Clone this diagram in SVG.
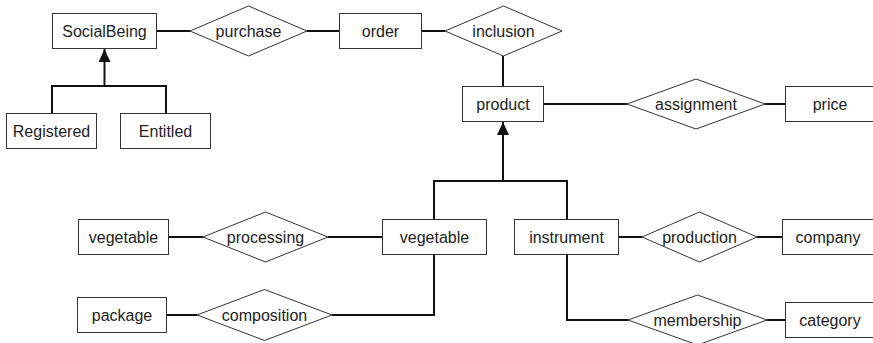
<svg xmlns="http://www.w3.org/2000/svg" width="873" height="343" viewBox="0 0 873 343">
<style>
.ent rect{fill:#fff;stroke:#333;stroke-width:1}
.rel polygon{fill:#fff;stroke:#333;stroke-width:1}
text{font-family:"Liberation Sans",Arial,sans-serif;font-size:16px;fill:#222;text-anchor:middle}
.conn path{fill:none;stroke:#111;stroke-width:2}
</style>
<defs>
<marker id="tri" markerUnits="userSpaceOnUse" viewBox="0 0 13 12" markerWidth="13" markerHeight="12" refX="13" refY="6" orient="auto">
<path d="M0,0 L13,6 L0,12 z" fill="#111"/>
</marker>
</defs>
<rect width="873" height="343" fill="#fff"/>
<g id="connectors" class="conn">
<path d="M157,31 H190"/>
<path d="M307,31 H339"/>
<path d="M422,31 H445"/>
<path d="M503,56 V86"/>
<path d="M544,104 H627"/>
<path d="M765,104 H785"/>
<path d="M169,237 H203"/>
<path d="M328,237 H382"/>
<path d="M167,315 H197"/>
<path d="M332,315 H434 V255"/>
<path d="M619,237 H642"/>
<path d="M757,237 H782"/>
<path d="M567,255 V320 H628"/>
<path d="M767,320 H785"/>
<path d="M52,113 V86 H166 V113"/>
<path d="M104.5,86 V49" marker-end="url(#tri)"/>
<path d="M434,219 V181 H567 V219"/>
<path d="M503,181 V122" marker-end="url(#tri)"/>
</g>
<g id="SocialBeing" class="ent"><rect x="52.5" y="13.5" width="104" height="35"/><text x="104.5" y="36.5">SocialBeing</text></g>
<g id="purchase" class="rel"><polygon points="190,31 248.5,6 307,31 248.5,56"/><text x="248.5" y="36.5">purchase</text></g>
<g id="order" class="ent"><rect x="339.5" y="13.5" width="82" height="35"/><text x="380.5" y="36.5">order</text></g>
<g id="inclusion" class="rel"><polygon points="445,31 503.5,6 562,31 503.5,56"/><text x="503.5" y="36.5">inclusion</text></g>
<g id="Registered" class="ent"><rect x="6.5" y="113.5" width="90" height="35"/><text x="51.5" y="136.5">Registered</text></g>
<g id="Entitled" class="ent"><rect x="120.5" y="113.5" width="90" height="35"/><text x="165.5" y="136.5">Entitled</text></g>
<g id="product" class="ent"><rect x="462.5" y="86.5" width="81" height="35"/><text x="503" y="109.5">product</text></g>
<g id="assignment" class="rel"><polygon points="627,104 696,79 765,104 696,129"/><text x="696" y="109.5">assignment</text></g>
<g id="price" class="ent"><rect x="785.5" y="86.5" width="100" height="35"/><text x="830" y="109.5">price</text></g>
<g id="vegetable1" class="ent"><rect x="78.5" y="219.5" width="90" height="35"/><text x="123.5" y="242.5">vegetable</text></g>
<g id="processing" class="rel"><polygon points="203,237 265.5,212 328,237 265.5,262"/><text x="265.5" y="242.5">processing</text></g>
<g id="vegetable2" class="ent"><rect x="382.5" y="219.5" width="104" height="35"/><text x="434.5" y="242.5">vegetable</text></g>
<g id="instrument" class="ent"><rect x="514.5" y="219.5" width="104" height="35"/><text x="566.5" y="242.5">instrument</text></g>
<g id="production" class="rel"><polygon points="642,237 699.5,212 757,237 699.5,262"/><text x="699.5" y="242.5">production</text></g>
<g id="company" class="ent"><rect x="782.5" y="219.5" width="100" height="35"/><text x="828" y="242.5">company</text></g>
<g id="package" class="ent"><rect x="77.5" y="297.5" width="89" height="35"/><text x="122" y="320.5">package</text></g>
<g id="composition" class="rel"><polygon points="197,315 264.5,289.5 332,315 264.5,340.5"/><text x="264.5" y="320.5">composition</text></g>
<g id="membership" class="rel"><polygon points="628,320 697.5,295 767,320 697.5,345"/><text x="697.5" y="325.5">membership</text></g>
<g id="category" class="ent"><rect x="785.5" y="302.5" width="100" height="35"/><text x="830" y="325.5">category</text></g>
</svg>
